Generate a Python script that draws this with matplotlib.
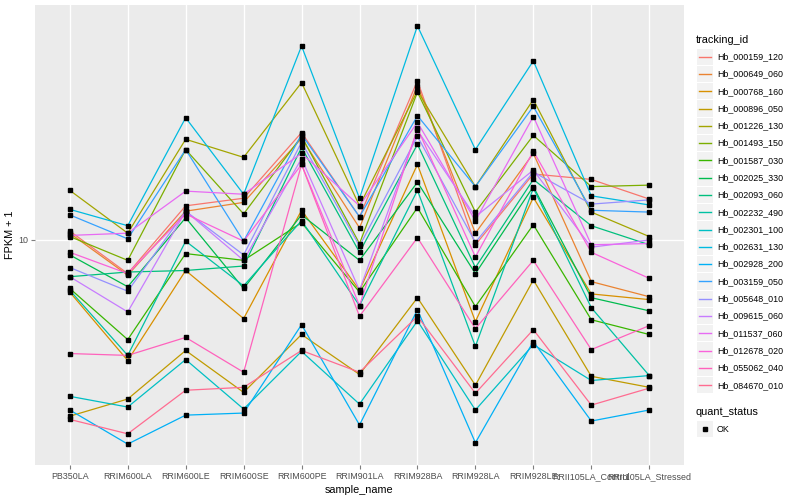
import numpy as np
import matplotlib.pyplot as plt
from matplotlib.patches import Rectangle

plt.rcParams['font.family'] = ['Liberation Sans', 'DejaVu Sans']

samples = ['PB350LA', 'RRIM600LA', 'RRIM600LE', 'RRIM600SE', 'RRIM600PE', 'RRIM901LA',
           'RRIM928BA', 'RRIM928LA', 'RRIM928LE', 'RRII105LA_Control', 'RRII105LA_Stressed']

tracking_ids = ['Hb_000159_120', 'Hb_000649_060', 'Hb_000768_160', 'Hb_000896_050',
                'Hb_001226_130', 'Hb_001493_150', 'Hb_001587_030', 'Hb_002025_330',
                'Hb_002093_060', 'Hb_002232_490', 'Hb_002301_100', 'Hb_002631_130',
                'Hb_002928_200', 'Hb_003159_050', 'Hb_005648_010', 'Hb_009615_060',
                'Hb_011537_060', 'Hb_012678_020', 'Hb_055062_040', 'Hb_084670_010']

# ggplot hue palette, 20 levels
colors = ['#F8766D', '#EA8331', '#D89000', '#C09B00', '#A3A500', '#7CAE00', '#39B600',
          '#00BB4E', '#00BF7D', '#00C1A3', '#00BFC4', '#00BAE0', '#00B0F6', '#35A2FF',
          '#9590FF', '#C77CFF', '#E76BF3', '#FA62DB', '#FF62BC', '#FF6C91']

# FPKM + 1 per sample (same order as samples)
Hb_000159_120 = [10.8, 7.5, 13.4, 14.3, 25.1, 12.2, 39.1, 9.6, 17.6, 16.8, 14.2]
Hb_000649_060 = [10.6, 7.4, 12.8, 13.8, 23.9, 11.1, 37.5, 10.6, 21.0, 7.0, 6.15]
Hb_000768_160 = [6.4, 3.56, 7.7, 5.1, 12.9, 6.5, 19.1, 4.97, 14.4, 6.3, 6.0]
Hb_000896_050 = [2.21, 2.56, 3.88, 2.71, 4.45, 3.16, 6.1, 2.88, 7.1, 3.11, 2.83]
Hb_001226_130 = [15.3, 10.6, 23.7, 20.3, 38.5, 13.4, 35.9, 15.8, 33.3, 12.7, 10.3]
Hb_001493_150 = [10.3, 8.4, 21.7, 12.5, 24.3, 9.7, 35.5, 12.7, 24.5, 15.8, 16.0]
Hb_001587_030 = [6.6, 4.26, 8.9, 8.4, 11.6, 6.4, 13.2, 5.65, 11.4, 5.05, 4.45]
Hb_002025_330 = [8.8, 6.7, 12.1, 6.6, 12.4, 8.4, 16.4, 7.5, 15.8, 6.1, 5.45]
Hb_002093_060 = [7.3, 7.6, 7.7, 8.0, 22.1, 9.0, 22.7, 7.9, 16.8, 11.3, 9.6]
Hb_002232_490 = [6.5, 3.72, 9.9, 6.75, 11.8, 5.7, 15.3, 4.02, 15.6, 5.6, 3.13]
Hb_002301_100 = [2.62, 2.39, 3.59, 2.35, 3.85, 2.45, 5.0, 2.33, 4.08, 3.0, 3.13]
Hb_002631_130 = [13.0, 11.3, 28.5, 14.8, 52.7, 14.3, 62.6, 21.7, 46.4, 14.6, 13.5]
Hb_002928_200 = [2.33, 1.74, 2.23, 2.27, 4.84, 2.05, 5.5, 1.76, 4.19, 2.12, 2.33]
Hb_003159_050 = [12.4, 10.1, 21.7, 9.9, 24.7, 12.2, 29.0, 15.8, 31.4, 12.9, 12.7]
Hb_005648_010 = [7.9, 6.45, 12.8, 8.8, 23.1, 9.5, 24.3, 9.8, 17.9, 13.6, 14.1]
Hb_009615_060 = [7.3, 5.4, 12.8, 8.4, 20.1, 6.5, 25.6, 12.2, 18.2, 9.4, 10.0]
Hb_011537_060 = [10.4, 10.6, 15.2, 14.8, 21.0, 13.4, 27.4, 11.8, 28.8, 9.6, 9.7]
Hb_012678_020 = [9.0, 7.5, 12.5, 9.9, 19.1, 5.7, 26.0, 8.65, 21.4, 9.0, 7.2]
Hb_055062_040 = [3.78, 3.72, 4.34, 3.22, 19.1, 5.2, 10.2, 4.68, 8.4, 3.91, 4.8]
Hb_084670_010 = [2.15, 1.90, 2.76, 2.83, 3.88, 3.22, 5.2, 2.69, 4.64, 2.43, 2.81]

series = [Hb_000159_120, Hb_000649_060, Hb_000768_160, Hb_000896_050, Hb_001226_130,
          Hb_001493_150, Hb_001587_030, Hb_002025_330, Hb_002093_060, Hb_002232_490,
          Hb_002301_100, Hb_002631_130, Hb_002928_200, Hb_003159_050, Hb_005648_010,
          Hb_009615_060, Hb_011537_060, Hb_012678_020, Hb_055062_040, Hb_084670_010]

fig = plt.figure(figsize=(8, 5), dpi=100)
ax = fig.add_axes([35/800, 35/500, 649/800, 460/500])
ax.set_facecolor('#EBEBEB')

x = np.arange(len(samples))
for vals, c in zip(series, colors):
    ax.plot(x, vals, color=c, lw=0.9, zorder=2)
for vals in series:
    ax.plot(x, vals, ls='none', marker='s', ms=2.4, color='black', zorder=3)

ax.set_yscale('log')
allv = np.log10(np.concatenate(series))
lo, hi = allv.min(), allv.max()
pad = (hi - lo) * 0.05
ax.set_ylim(10**(lo - pad), 10**(hi + pad))
ax.set_xlim(-0.6, len(samples) - 0.4)

ax.set_yticks([10])
ax.set_yticklabels(['10'])
ax.yaxis.set_minor_locator(plt.NullLocator())
ax.set_xticks(x)
ax.set_xticklabels(samples)
ax.tick_params(axis='both', colors='#7F7F7F', labelcolor='#4D4D4D', labelsize=6.4,
               length=3, width=0.8, pad=2)
ax.grid(True, color='white', lw=1.0, zorder=1)
ax.set_axisbelow(True)
for s in ax.spines.values():
    s.set_visible(False)

ax.set_xlabel('sample_name', fontsize=7.8, labelpad=3)
ax.set_ylabel('FPKM + 1', fontsize=7.8, labelpad=2)

# legend drawn in pixel coordinates
lax = fig.add_axes([0, 0, 1, 1])
lax.set_xlim(0, 800)
lax.set_ylim(500, 0)
lax.axis('off')
lax.patch.set_visible(False)

lax.text(696, 40, 'tracking_id', fontsize=7.8, va='center', ha='left')
y0, dy = 56.7, 17.29
for i, (name, c) in enumerate(zip(tracking_ids, colors)):
    yc = y0 + i * dy
    lax.add_patch(Rectangle((697, yc - dy/2 + 0.5), 16, dy - 1, facecolor='#F2F2F2',
                            edgecolor='none'))
    lax.plot([699, 711], [yc, yc], color=c, lw=1.0)
    lax.text(717, yc, name, fontsize=6.4, va='center', ha='left')

lax.text(696, 412, 'quant_status', fontsize=7.8, va='center', ha='left')
lax.add_patch(Rectangle((697, 421), 16, 16, facecolor='#F2F2F2', edgecolor='none'))
lax.plot([705], [429], marker='s', ms=2.4, color='black')
lax.text(717, 429, 'OK', fontsize=6.4, va='center', ha='left')

fig.savefig('out.png', dpi=100)
